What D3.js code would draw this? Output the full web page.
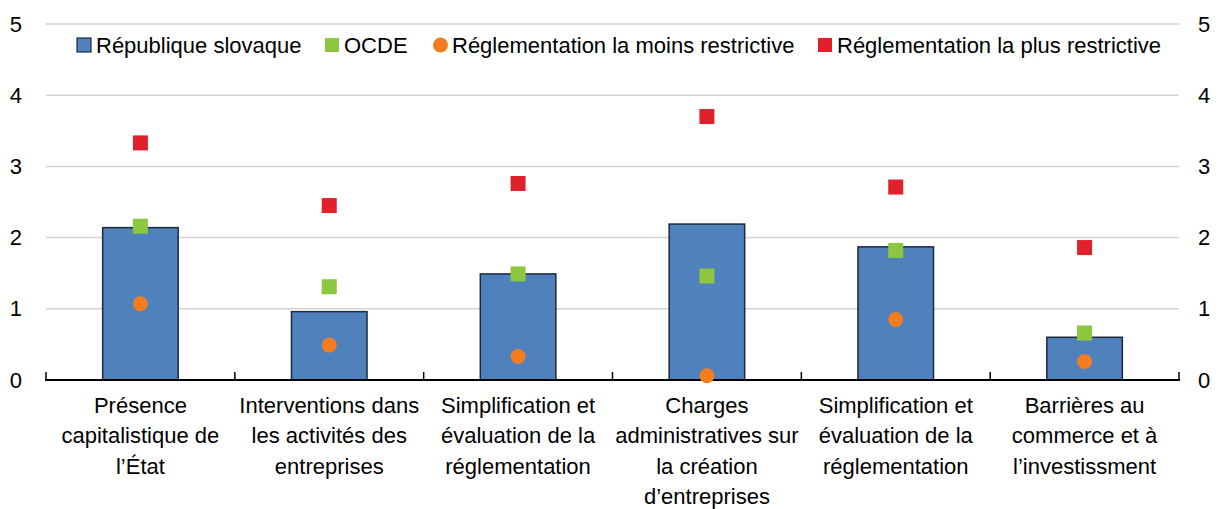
<!DOCTYPE html>
<html>
<head>
<meta charset="utf-8">
<script src="https://cdn.jsdelivr.net/npm/d3@7"></script>
<style>
  html, body { margin: 0; padding: 0; background: #fff; }
  svg text { font-family: "Liberation Sans", Arial, sans-serif; fill: #000; }
</style>
</head>
<body>
<svg id="chart" width="1222" height="509"></svg>
<script>
// Categories (lines of each x-axis label)
const categories = [
  ["Présence", "capitalistique de", "l’État"],
  ["Interventions dans", "les activités des", "entreprises"],
  ["Simplification et", "évaluation de la", "réglementation"],
  ["Charges", "administratives sur", "la création", "d’entreprises"],
  ["Simplification et", "évaluation de la", "réglementation"],
  ["Barrières au", "commerce et à", "l’investissment"]
];

// Series values
const slovaquie = [2.14, 0.96, 1.49, 2.19, 1.87, 0.60];
const ocde      = [2.16, 1.31, 1.49, 1.46, 1.82, 0.66];
const moinsRestrictive = [1.07, 0.49, 0.33, 0.06, 0.85, 0.26];
const plusRestrictive  = [3.33, 2.45, 2.76, 3.70, 2.71, 1.86];

const yTicks = [0, 1, 2, 3, 4, 5];
const legendLabels = [
  "République slovaque",
  "OCDE",
  "Réglementation la moins restrictive",
  "Réglementation la plus restrictive"
];

const colors = {
  bar: "#4f81bd",
  barStroke: "#1c2a3a",
  ocde: "#8dc63f",
  moins: "#f47d20",
  plus: "#e0202a",
  grid: "#d3d3d3"
};

const svg = d3.select("#chart");
const plotLeft = 46, plotRight = 1179, plotTop = 24, plotBottom = 380;

const idx = categories.map((_, i) => i);
const x = d3.scaleBand().domain(idx).range([plotLeft, plotRight]).paddingInner(0.6).paddingOuter(0.3);
const xBoundaries = d3.scaleBand().domain(idx).range([plotLeft, plotRight]).padding(0);
const y = d3.scaleLinear().domain([0, 5]).range([plotBottom, plotTop]);
const cx = i => x(i) + x.bandwidth() / 2;

// Horizontal gridlines
svg.append("g")
  .selectAll("line")
  .data(yTicks.filter(t => t > 0))
  .join("line")
  .attr("x1", plotLeft).attr("x2", plotRight)
  .attr("y1", d => y(d)).attr("y2", d => y(d))
  .attr("stroke", colors.grid).attr("stroke-width", 1.5);

// Left and right value axes (labels only)
const yAxisL = d3.axisLeft(y).tickValues(yTicks).tickSize(0).tickPadding(24).tickFormat(d3.format("d"));
const yAxisR = d3.axisRight(y).tickValues(yTicks).tickSize(0).tickPadding(19).tickFormat(d3.format("d"));
const gL = svg.append("g").attr("transform", `translate(${plotLeft},0)`).call(yAxisL);
const gR = svg.append("g").attr("transform", `translate(${plotRight},0)`).call(yAxisR);
[gL, gR].forEach(g => {
  g.select(".domain").remove();
  g.selectAll("text").attr("font-size", 22).attr("font-family", "Liberation Sans, Arial, sans-serif").attr("fill", "#000");
});

// Bars
svg.append("g")
  .selectAll("rect")
  .data(slovaquie)
  .join("rect")
  .attr("x", (d, i) => x(i))
  .attr("y", d => y(d))
  .attr("width", x.bandwidth())
  .attr("height", d => y(0) - y(d))
  .attr("fill", colors.bar)
  .attr("stroke", colors.barStroke)
  .attr("stroke-width", 1.5);

// Category axis: baseline with inward ticks at band boundaries
const boundaries = idx.map(i => xBoundaries(i)).concat([plotRight]);
const gx = svg.append("g");
gx.append("line")
  .attr("x1", plotLeft - 1).attr("x2", plotRight + 1)
  .attr("y1", y(0)).attr("y2", y(0))
  .attr("stroke", "#000").attr("stroke-width", 2);
gx.selectAll("line.tick")
  .data(boundaries)
  .join("line")
  .attr("class", "tick")
  .attr("x1", d => d).attr("x2", d => d)
  .attr("y1", y(0)).attr("y2", y(0) - 8)
  .attr("stroke", "#000").attr("stroke-width", 1.5);

// Category labels
const labels = svg.append("g")
  .selectAll("text")
  .data(categories)
  .join("text")
  .attr("text-anchor", "middle")
  .attr("font-size", 22)
  .attr("x", (d, i) => cx(i))
  .attr("y", 413);
labels.selectAll("tspan")
  .data(d => d)
  .join("tspan")
  .attr("x", function() { return d3.select(this.parentNode).attr("x"); })
  .attr("dy", (d, j) => j === 0 ? 0 : 30.3)
  .text(d => d);

// Point markers
const sq = 15;
svg.append("g")
  .selectAll("rect")
  .data(ocde)
  .join("rect")
  .attr("x", (d, i) => cx(i) - sq / 2)
  .attr("y", d => y(d) - sq / 2)
  .attr("width", sq).attr("height", sq)
  .attr("fill", colors.ocde);

svg.append("g")
  .selectAll("circle")
  .data(moinsRestrictive)
  .join("circle")
  .attr("cx", (d, i) => cx(i))
  .attr("cy", d => y(d))
  .attr("r", 7.5)
  .attr("fill", colors.moins);

svg.append("g")
  .selectAll("rect")
  .data(plusRestrictive)
  .join("rect")
  .attr("x", (d, i) => cx(i) - sq / 2)
  .attr("y", d => y(d) - sq / 2)
  .attr("width", sq).attr("height", sq)
  .attr("fill", colors.plus);

// Legend
const legendItems = [
  { label: legendLabels[0], x: 77, shape: "rect", fill: colors.bar, stroke: colors.barStroke },
  { label: legendLabels[1], x: 325, shape: "rect", fill: colors.ocde },
  { label: legendLabels[2], x: 433, shape: "circle", fill: colors.moins },
  { label: legendLabels[3], x: 818, shape: "rect", fill: colors.plus }
];
const legendY = 45;
const lg = svg.append("g");
legendItems.forEach(it => {
  if (it.shape === "rect") {
    lg.append("rect")
      .attr("x", it.x).attr("y", legendY - 7)
      .attr("width", 14).attr("height", 14)
      .attr("fill", it.fill)
      .attr("stroke", it.stroke || "none")
      .attr("stroke-width", it.stroke ? 1.2 : 0);
  } else {
    lg.append("circle")
      .attr("cx", it.x + 7.5).attr("cy", legendY)
      .attr("r", 7.5)
      .attr("fill", it.fill);
  }
  lg.append("text")
    .attr("x", it.x + 19)
    .attr("y", legendY + 8)
    .attr("font-size", 22)
    .text(it.label);
});
</script>
</body>
</html>
